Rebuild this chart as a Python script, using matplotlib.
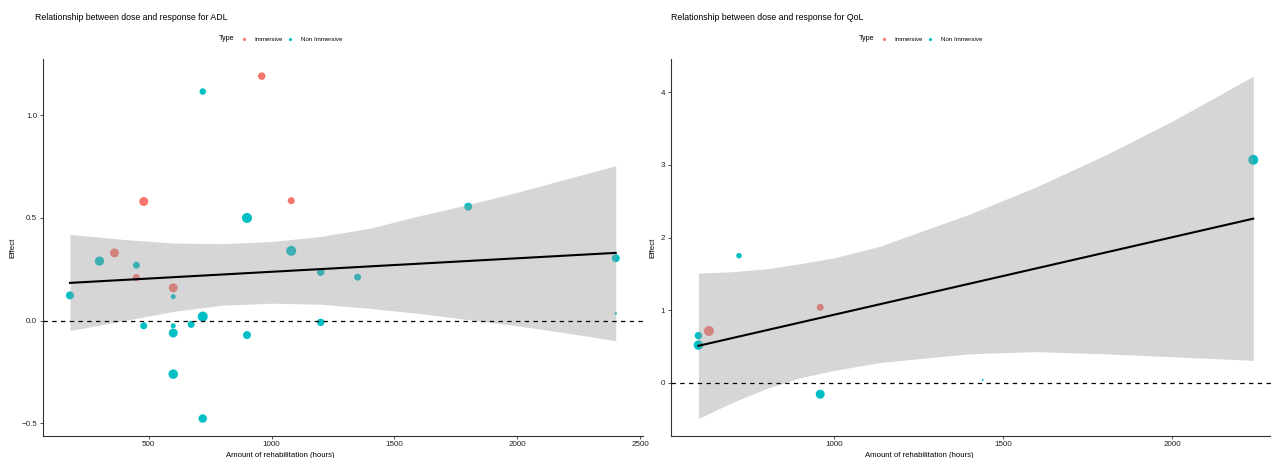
import numpy as np
import matplotlib
matplotlib.use('Agg')
import matplotlib.pyplot as plt
from matplotlib.lines import Line2D

plt.rcParams['font.family'] = ['Liberation Sans', 'DejaVu Sans']

# Colours (ggplot defaults)
RED = '#F8766D'
CYAN = '#00BFC4'

# ADL data
adl_hours = [180, 300, 361, 450, 450, 480, 480, 600, 600, 600, 600, 600, 673, 720, 720, 720,
             900, 900, 960, 1080, 1080, 1200, 1200, 1350, 1800, 2400, 2400]
adl_effect = [0.123, 0.29, 0.33, 0.27, 0.21, 0.58, -0.025, 0.16, 0.117, -0.025, -0.06, -0.26,
              -0.018, 1.115, 0.02, -0.476, 0.50, -0.07, 1.19, 0.584, 0.34, 0.236, -0.008,
              0.212, 0.555, 0.304, 0.035]
adl_type = ['Non', 'Non', 'Imm', 'Non', 'Imm', 'Imm', 'Non', 'Imm', 'Non', 'Non', 'Non', 'Non',
            'Non', 'Non', 'Non', 'Non', 'Non', 'Non', 'Imm', 'Imm', 'Non', 'Non', 'Non',
            'Non', 'Non', 'Non', 'Non']
adl_weight = [8, 9.3, 9, 7, 7.3, 9, 7, 9, 5, 5, 9, 9.5, 7, 6.5, 10, 8.5,
              10, 8, 7.5, 7, 10, 7.5, 7.5, 7, 8, 8, 2.5]
adl_fit_x = [180, 2400]
adl_fit_y = [0.184, 0.33]
adl_band_x = [180, 400, 600, 800, 1000, 1200, 1400, 1600, 1800, 2000, 2200, 2400]
adl_band_lo = [-0.048, 0.0, 0.045, 0.075, 0.085, 0.08, 0.06, 0.035, 0.005, -0.025, -0.06, -0.097]
adl_band_hi = [0.42, 0.395, 0.378, 0.375, 0.385, 0.41, 0.45, 0.51, 0.565, 0.625, 0.69, 0.754]

# QoL data
qol_hours = [600, 600, 631, 720, 960, 960, 1440, 2240]
qol_effect = [0.65, 0.52, 0.715, 1.75, 1.04, -0.156, 0.04, 3.07]
qol_type = ['Non', 'Non', 'Imm', 'Non', 'Imm', 'Non', 'Non', 'Non']
qol_weight = [7.5, 9.5, 10, 5.5, 7, 9, 2, 10]
qol_fit_x = [600, 2240]
qol_fit_y = [0.51, 2.26]
qol_band_x = [600, 700, 800, 900, 1000, 1136, 1400, 1600, 1800, 2000, 2240]
qol_band_lo = [-0.49, -0.27, -0.08, 0.07, 0.17, 0.28, 0.40, 0.43, 0.40, 0.36, 0.31]
qol_band_hi = [1.51, 1.53, 1.57, 1.64, 1.72, 1.88, 2.32, 2.70, 3.13, 3.60, 4.22]


def panel(ax, hours, effect, types, weight, fit_x, fit_y, band_x, band_lo, band_hi,
          xlim, ylim, xticks, yticks, yfmt, label_x, ylabel_x):
    cols = [RED if t == 'Imm' else CYAN for t in types]
    sizes = [(w * 0.72) ** 2 for w in weight]
    ax.scatter(hours, effect, s=sizes, c=cols, linewidths=0, zorder=2)
    ax.fill_between(band_x, band_lo, band_hi, color='#999999', alpha=0.4, linewidth=0, zorder=3)
    ax.plot(fit_x, fit_y, color='black', lw=1.5, zorder=4)
    ax.axhline(0, color='black', lw=0.9, ls=(0, (3.5, 3.5)), zorder=5)
    ax.set_xlim(*xlim)
    ax.set_ylim(*ylim)
    ax.set_xticks(xticks)
    ax.set_yticks(yticks)
    ax.set_yticklabels([yfmt.format(v).replace('-', '\u2212') for v in yticks])
    for side in ['top', 'right']:
        ax.spines[side].set_visible(False)
    for side in ['left', 'bottom']:
        ax.spines[side].set_linewidth(0.8)
        ax.spines[side].set_color('#333333')
    ax.tick_params(labelsize=5.8, colors='#333333', length=2.5, width=0.6, pad=1.5)
    ax.tick_params(labelcolor='#222222')
    ax.set_xlabel('Amount of rehabilitation (hours)', fontsize=5.6)
    ax.set_ylabel('Effect', fontsize=5.8)
    ax.xaxis.set_label_coords(label_x, -0.045)
    ax.yaxis.set_label_coords(ylabel_x, 0.5)


fig = plt.figure(figsize=(12.71, 4.58), dpi=100)
ax1 = fig.add_axes([42.7 / 1271, 0.049, (643 - 42.7) / 1271, 0.822])
ax2 = fig.add_axes([670.7 / 1271, 0.049, (1281 - 670.7) / 1271, 0.822])

panel(ax1, adl_hours, adl_effect, adl_type, adl_weight, adl_fit_x, adl_fit_y,
      adl_band_x, adl_band_lo, adl_band_hi, (69, 2511), (-0.559, 1.273),
      [500, 1000, 1500, 2000, 2500], [-0.5, 0.0, 0.5, 1.0], '{:.1f}', 0.395, -0.0445)
panel(ax2, qol_hours, qol_effect, qol_type, qol_weight, qol_fit_x, qol_fit_y,
      qol_band_x, qol_band_lo, qol_band_hi, (518, 2322), (-0.725, 4.456),
      [1000, 1500, 2000], [0, 1, 2, 3, 4], '{:d}', 0.407, -0.024)

# titles
fig.text(35 / 1271, 1 - 17 / 458, 'Relationship between dose and response for ADL',
         fontsize=6.3, va='center', ha='left')
fig.text(671 / 1271, 1 - 17 / 458, 'Relationship between dose and response for QoL',
         fontsize=6.3, va='center', ha='left')

# legends
handles = [Line2D([], [], ls='none', marker='o', ms=2.3, mfc=RED, mec='none'),
           Line2D([], [], ls='none', marker='o', ms=2.3, mfc=CYAN, mec='none')]
for tx, lx in [(219, 240), (859, 880)]:
    fig.text(tx / 1271, 1 - 39 / 458, 'Type', fontsize=5.2, va='center', ha='left')
    fig.legend(handles, ['Immersive', 'Non Immersive'], loc='center left',
               bbox_to_anchor=(lx / 1271, 1 - 39 / 458), ncol=2, frameon=False,
               fontsize=4.4, handlelength=1.2, handletextpad=1.2, columnspacing=0.55,
               borderpad=0, borderaxespad=0)

fig.savefig('out.png', dpi=100)
